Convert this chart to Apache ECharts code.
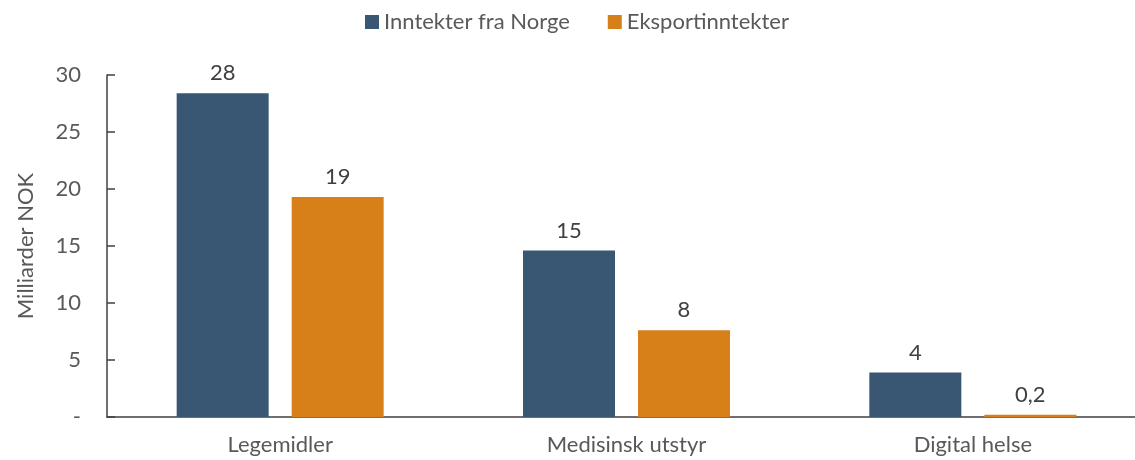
<!DOCTYPE html>
<html>
<head>
<meta charset="utf-8">
<script src="https://cdn.jsdelivr.net/npm/echarts@6/dist/echarts.min.js"></script>
<style>
  html, body { margin: 0; padding: 0; background: #fff; overflow: hidden; }
  /* the plot runs a little past the right edge, as in the reference */
  #chart { width: 1146px; height: 460px; }
</style>
</head>
<body>
<div id="chart"></div>
<script>
var categories = ['Legemidler', 'Medisinsk utstyr', 'Digital helse'];
var norge = [28.4, 14.6, 3.9];
var eksport = [19.3, 7.6, 0.2];
var seriesNames = ['Inntekter fra Norge', 'Eksportinntekter'];

var font = 'Lato';
var fs = 22;

function fmt(v) {
    if (v < 1) return v.toFixed(1).replace('.', ',');
    return String(Math.round(v));
}

var myChart = echarts.init(document.getElementById('chart'));
option = {
    animation: false,
    textStyle: { fontFamily: font },
    legend: {
        top: 6,
        left: 360,
        itemWidth: 14,
        itemHeight: 14,
        itemGap: 38,
        icon: 'rect',
        textStyle: { fontFamily: font, fontSize: fs, color: '#595959' },
        data: seriesNames
    },
    grid: { left: 107, right: 0, top: 75, bottom: 43 },
    xAxis: {
        type: 'category',
        data: categories,
        axisLine: { lineStyle: { color: '#404040', width: 1.5 } },
        axisTick: { show: false },
        axisLabel: { fontFamily: font, fontSize: fs, color: '#595959', margin: 17 }
    },
    yAxis: {
        type: 'value',
        min: 0,
        max: 30,
        interval: 5,
        name: 'Milliarder NOK',
        nameLocation: 'middle',
        nameGap: 70,
        nameTextStyle: { fontFamily: font, fontSize: fs, color: '#595959' },
        splitLine: { show: false },
        axisLine: { show: true, lineStyle: { color: '#404040', width: 1.5 } },
        axisTick: { show: true, inside: true, length: 8, lineStyle: { color: '#404040', width: 1.5 } },
        axisLabel: {
            fontFamily: font, fontSize: fs, color: '#595959', margin: 26,
            formatter: function (v) { return v === 0 ? '-' : v; }
        }
    },
    series: [{
        name: seriesNames[0],
        type: 'bar',
        data: norge,
        barWidth: 92,
        barGap: '25%',
        itemStyle: { color: '#395673' },
        label: {
            show: true, position: 'top', distance: 9,
            fontFamily: font, fontSize: fs, color: '#404040',
            formatter: function (p) { return fmt(p.value); }
        }
    }, {
        name: seriesNames[1],
        type: 'bar',
        data: eksport,
        barWidth: 92,
        barGap: '25%',
        itemStyle: { color: '#D77F19' },
        label: {
            show: true, position: 'top', distance: 9,
            fontFamily: font, fontSize: fs, color: '#404040',
            formatter: function (p) { return fmt(p.value); }
        }
    }]
};
myChart.setOption(option);
</script>
</body>
</html>
